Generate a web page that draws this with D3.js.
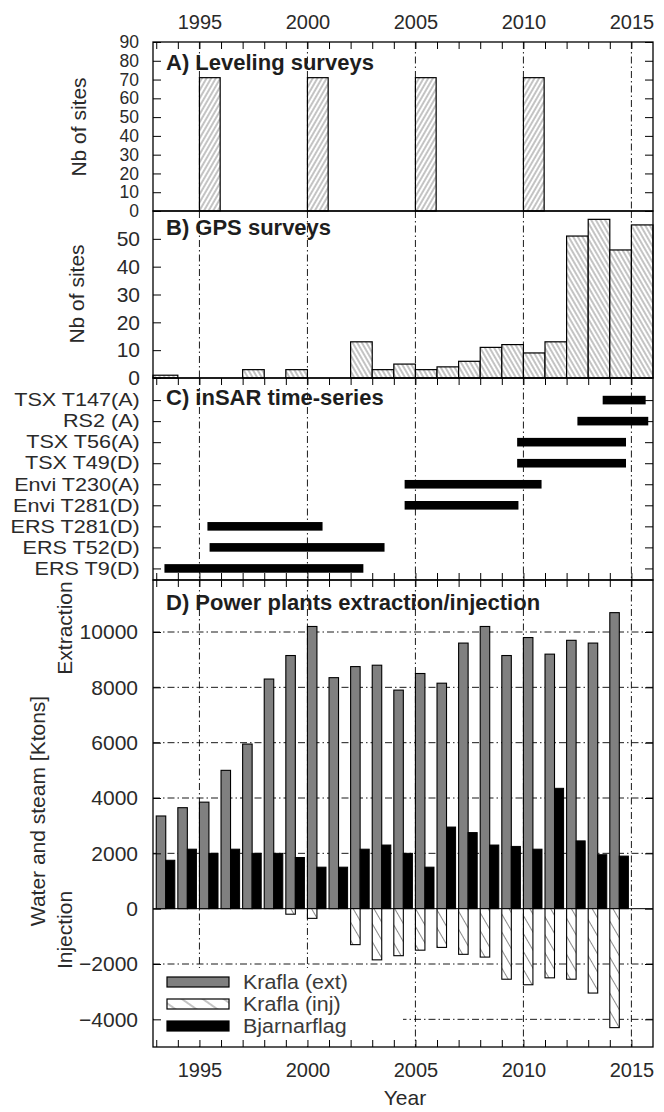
<!DOCTYPE html>
<html>
<head>
<meta charset="utf-8">
<script src="https://cdnjs.cloudflare.com/ajax/libs/d3/7.8.5/d3.min.js"></script>
<style>
  html, body { margin: 0; padding: 0; background: #fff; }
  svg text { font-family: "Liberation Sans", Arial, Helvetica, sans-serif; }
</style>
</head>
<body>
<svg id="chart" width="664" height="1112"></svg>
<script>
// ---- data ----------------------------------------------------------------
const labelYears = [1995, 2000, 2005, 2010, 2015];

// A) leveling surveys
const levelingYears = [1995, 2000, 2005, 2010];
const levelingSites = [71, 71, 71, 71];

// B) GPS surveys
const gpsYears = [1993, 1994, 1995, 1996, 1997, 1998, 1999, 2000, 2001, 2002, 2003, 2004,
                  2005, 2006, 2007, 2008, 2009, 2010, 2011, 2012, 2013, 2014, 2015];
const gpsSites = [1, 0, 0, 0, 3, 0, 3, 0, 0, 13, 3, 5,
                  3, 4, 6, 11, 12, 9, 13, 51, 57, 46, 55];

// C) InSAR time-series coverage (bottom to top)
const sarTracks = ["ERS T9(D)", "ERS T52(D)", "ERS T281(D)", "Envi T281(D)", "Envi T230(A)",
                   "TSX T49(D)", "TSX T56(A)", "RS2 (A)", "TSX T147(A)"];
const sarStart = [1993.38, 1995.47, 1995.37, 2004.5, 2004.5, 2009.71, 2009.71, 2012.5, 2013.67];
const sarEnd   = [2002.59, 2003.57, 2000.7, 2009.77, 2010.84, 2014.75, 2014.75, 2015.78, 2015.66];

// D) power plants, Ktons per year
const plantYears = [1993, 1994, 1995, 1996, 1997, 1998, 1999, 2000, 2001, 2002, 2003,
                    2004, 2005, 2006, 2007, 2008, 2009, 2010, 2011, 2012, 2013, 2014];
const kraflaExt = [3350, 3650, 3850, 5000, 5950, 8300, 9150, 10200, 8350, 8750, 8800,
                   7900, 8500, 8150, 9600, 10200, 9150, 9800, 9200, 9700, 9600, 10700];
const kraflaInj = [0, 0, 0, 0, 0, 0, -200, -350, 0, -1300, -1850,
                   -1700, -1500, -1400, -1650, -1750, -2550, -2750, -2500, -2550, -3050, -4300];
const bjarnarflag = [1750, 2150, 2000, 2150, 2000, 2000, 1850, 1500, 1500, 2150, 2300,
                     2000, 1500, 2950, 2750, 2300, 2250, 2150, 4350, 2450, 1950, 1900];

const levelTicks = [0, 10, 20, 30, 40, 50, 60, 70, 80, 90];
const gpsTicks = [0, 10, 20, 30, 40, 50];
const plantTicks = [-4000, -2000, 0, 2000, 4000, 6000, 8000, 10000];
const gridLevels = [-4000, -2000, 2000, 4000, 6000, 8000, 10000];
const legendLabels = ["Krafla (ext)", "Krafla (inj)", "Bjarnarflag"];

// ---- layout --------------------------------------------------------------
const L = 153, R = 653;
const pA = { top: 42, bottom: 211 };
const pB = { top: 211, bottom: 378 };
const pC = { top: 378, bottom: 580 };
const pD = { top: 580, bottom: 1047 };
const DASH = "7,3,1.5,3";
const TXT = "#2a2a2a";

const svg = d3.select("#chart");
const x = d3.scaleLinear().domain([1992.85, 2016]).range([L, R]);
const yA = d3.scaleLinear().domain([0, 90]).range([pA.bottom, pA.top]);
const yB = d3.scaleLinear().domain([0, 60]).range([pB.bottom, pB.top]);
const yC = d3.scaleLinear().domain([0.45, 10.05]).range([pC.bottom, pC.top]);
const yD = d3.scaleLinear().domain([-5000, 11880]).range([pD.bottom, pD.top]);
const everyYear = d3.range(1993, 2016);

// ---- hatch patterns ------------------------------------------------------
const defs = svg.append("defs");
function hatch(id, size, angle, color, w) {
  const p = defs.append("pattern").attr("id", id)
    .attr("patternUnits", "userSpaceOnUse")
    .attr("width", size).attr("height", size)
    .attr("patternTransform", `rotate(${angle})`);
  p.append("rect").attr("width", size).attr("height", size).attr("fill", "#fff");
  p.append("line").attr("x1", size / 2).attr("x2", size / 2)
    .attr("y1", 0).attr("y2", size)
    .attr("stroke", color).attr("stroke-width", w);
}
hatch("hatchA", 4, 30, "#7a7a7a", 0.9);
hatch("hatchB", 4, -30, "#7a7a7a", 0.9);
hatch("hatchD", 9, -30, "#8a8a8a", 1);
hatch("hatchLeg", 12, -55, "#8a8a8a", 1);

// ---- helpers -------------------------------------------------------------
function clean(g, size = 20) {
  g.select(".domain").remove();
  g.attr("font-size", null).attr("font-family", null);
  g.selectAll(".tick line").attr("stroke", "#000").attr("stroke-width", 1);
  g.selectAll("text").attr("fill", TXT).style("font-size", size + "px");
}
function yearLines(panel) {
  svg.append("g").selectAll("line").data(labelYears).join("line")
    .attr("x1", d => x(d)).attr("x2", d => x(d))
    .attr("y1", panel.top).attr("y2", panel.bottom)
    .attr("stroke", "#000").attr("stroke-width", 0.9)
    .attr("stroke-dasharray", DASH);
}
function frame(panel) {
  svg.append("rect").attr("x", L).attr("y", panel.top)
    .attr("width", R - L).attr("height", panel.bottom - panel.top)
    .attr("fill", "none").attr("stroke", "#000").attr("stroke-width", 1.3);
}
function yearTicks(panel, top, bottom) {
  if (top) svg.append("g").attr("transform", `translate(0,${panel.top})`)
    .call(d3.axisTop(x).tickValues(everyYear).tickSize(-7).tickFormat("")).call(clean);
  if (bottom) svg.append("g").attr("transform", `translate(0,${panel.bottom})`)
    .call(d3.axisBottom(x).tickValues(everyYear).tickSize(-7).tickFormat("")).call(clean);
}
function title(txt, baseline) {
  svg.append("text").attr("x", 166).attr("y", baseline)
    .attr("fill", "#1e1e1e").style("font-size", "22px").style("font-weight", "bold")
    .text(txt);
}
function vLabel(cx, cy, txt) {
  svg.append("text").attr("transform", `translate(${cx},${cy}) rotate(-90)`)
    .attr("text-anchor", "middle").attr("fill", TXT).style("font-size", "21px")
    .text(txt);
}

// ---- A) leveling surveys -------------------------------------------------
yearLines(pA);
svg.append("g").selectAll("rect").data(levelingYears).join("rect")
  .attr("x", d => x(d)).attr("width", d => x(d + 0.96) - x(d))
  .attr("y", (d, i) => yA(levelingSites[i]))
  .attr("height", (d, i) => yA(0) - yA(levelingSites[i]))
  .attr("fill", "url(#hatchA)").attr("stroke", "#000").attr("stroke-width", 1.2);
svg.append("g").attr("transform", `translate(${L},0)`)
  .call(d3.axisLeft(yA).tickValues(levelTicks).tickSize(-8).tickPadding(14).tickFormat(d3.format("d")))
  .call(clean, 17.5);
svg.append("g").attr("transform", `translate(${R},0)`)
  .call(d3.axisRight(yA).tickValues(levelTicks).tickSize(-8).tickFormat("")).call(clean);
yearTicks(pA, true, false);
svg.append("g").attr("transform", `translate(0,${pA.top})`)
  .call(d3.axisTop(x).tickValues(labelYears).tickSize(0).tickPadding(13).tickFormat(d3.format("d")))
  .call(clean);
title("A) Leveling surveys", 70);
vLabel(86, 127, "Nb of sites");
frame(pA);

// ---- B) GPS surveys ------------------------------------------------------
yearLines(pB);
svg.append("g").selectAll("rect")
  .data(gpsYears.map((yr, i) => ({ yr, v: gpsSites[i] })).filter(d => d.v > 0))
  .join("rect")
  .attr("x", d => Math.max(L, x(d.yr - 0.15 * (d.yr === 1993)))).attr("width", d => x(d.yr + 1) - Math.max(L, x(d.yr - 0.15 * (d.yr === 1993))))
  .attr("y", d => yB(d.v)).attr("height", d => yB(0) - yB(d.v))
  .attr("fill", "url(#hatchB)").attr("stroke", "#000").attr("stroke-width", 1.2);
svg.append("g").attr("transform", `translate(${L},0)`)
  .call(d3.axisLeft(yB).tickValues(gpsTicks).tickSize(-8).tickPadding(13).tickFormat(d3.format("d")))
  .call(clean, 21);
title("B) GPS surveys", 235);
vLabel(84, 294, "Nb of sites");
frame(pB);

// ---- C) InSAR time-series ------------------------------------------------
yearLines(pC);
svg.append("g").selectAll("rect").data(sarTracks).join("rect")
  .attr("x", (d, i) => x(sarStart[i]))
  .attr("width", (d, i) => x(sarEnd[i]) - x(sarStart[i]))
  .attr("y", (d, i) => yC(i + 1) - 4.3).attr("height", 8.6)
  .attr("fill", "#000");
svg.append("g").attr("transform", `translate(${L},0)`)
  .call(d3.axisLeft(yC).tickValues(sarTracks.map((d, i) => i + 1)).tickSize(-8).tickPadding(11)
    .tickFormat(i => sarTracks[i - 1]))
  .call(clean, 18)
  .call(g => g.selectAll("text").attr("transform", "scale(1.2,1)"));
svg.append("g").attr("transform", `translate(${R},0)`)
  .call(d3.axisRight(yC).tickValues(sarTracks.map((d, i) => i + 1)).tickSize(-8).tickFormat(""))
  .call(clean);
yearTicks(pC, true, true);
title("C) inSAR time-series", 405);
frame(pC);

// ---- D) power plants -----------------------------------------------------
yearLines(pD);
svg.append("g").selectAll("line").data(gridLevels).join("line")
  .attr("x1", L).attr("x2", R)
  .attr("y1", d => yD(d)).attr("y2", d => yD(d))
  .attr("stroke", "#000").attr("stroke-width", 0.9).attr("stroke-dasharray", DASH);
svg.append("line").attr("x1", L).attr("x2", R).attr("y1", yD(0)).attr("y2", yD(0))
  .attr("stroke", "#000").attr("stroke-width", 1);

const plant = plantYears.map((yr, i) => ({ yr, ext: kraflaExt[i], inj: kraflaInj[i], bj: bjarnarflag[i] }));
const gW = 0.44, bW = 0.42;
const gD = svg.append("g");
gD.selectAll(".ext").data(plant).join("rect").attr("class", "ext")
  .attr("x", d => x(d.yr)).attr("width", d => x(d.yr + gW) - x(d.yr))
  .attr("y", d => yD(d.ext)).attr("height", d => yD(0) - yD(d.ext))
  .attr("fill", "#808080").attr("stroke", "#000").attr("stroke-width", 1.1);
gD.selectAll(".inj").data(plant.filter(d => d.inj < 0)).join("rect").attr("class", "inj")
  .attr("x", d => x(d.yr)).attr("width", d => x(d.yr + gW) - x(d.yr))
  .attr("y", yD(0)).attr("height", d => yD(d.inj) - yD(0))
  .attr("fill", "url(#hatchD)").attr("stroke", "#000").attr("stroke-width", 1.1);
gD.selectAll(".bj").data(plant).join("rect").attr("class", "bj")
  .attr("x", d => x(d.yr + gW)).attr("width", d => x(d.yr + gW + bW) - x(d.yr + gW))
  .attr("y", d => yD(d.bj)).attr("height", d => yD(0) - yD(d.bj))
  .attr("fill", "#000").attr("stroke", "#000").attr("stroke-width", 1);

// legend
const leg = svg.append("g");
leg.append("rect").attr("x", L + 1).attr("y", 968).attr("width", 249).attr("height", 78).attr("fill", "#fff");
const legFill = ["#808080", "url(#hatchLeg)", "#000"];
const legY = [982, 1004, 1026];
legendLabels.forEach((lab, i) => {
  leg.append("rect").attr("x", 167).attr("y", legY[i] - 5).attr("width", 62).attr("height", 10)
    .attr("fill", legFill[i]).attr("stroke", "#000").attr("stroke-width", 1.2);
  leg.append("text").attr("transform", `translate(243,${legY[i]}) scale(1.1,1)`)
    .attr("dy", "0.35em")
    .attr("fill", "#3a3a3a").style("font-size", "19.5px").text(lab);
});

svg.append("g").attr("transform", `translate(${L},0)`)
  .call(d3.axisLeft(yD).tickValues(plantTicks).tickSize(-8).tickPadding(15).tickFormat(d3.format("d")))
  .call(clean, 21);
svg.append("g").attr("transform", `translate(${R},0)`)
  .call(d3.axisRight(yD).tickValues(plantTicks).tickSize(-8).tickFormat("")).call(clean);
yearTicks(pD, true, true);
svg.append("g").attr("transform", `translate(0,${pD.bottom})`)
  .call(d3.axisBottom(x).tickValues(labelYears).tickSize(0).tickPadding(16).tickFormat(d3.format("d")))
  .call(clean);
title("D) Power plants extraction/injection", 610);
vLabel(45, 811, "Water and steam [Ktons]");
vLabel(72, 628, "Extraction");
vLabel(72, 930, "Injection");
frame(pD);

svg.append("text").attr("x", 405).attr("y", 1105).attr("text-anchor", "middle")
  .attr("fill", TXT).style("font-size", "21px").text("Year");
</script>
</body>
</html>
